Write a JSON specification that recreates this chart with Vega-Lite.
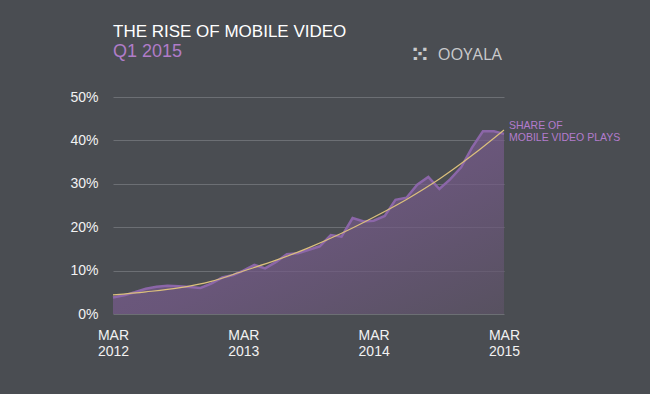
{
  "$schema": "https://vega.github.io/schema/vega-lite/v6.json",
  "autosize": {"type": "none"},
  "width": 391,
  "height": 217,
  "padding": {"left": 113, "top": 97, "right": 146, "bottom": 80},
  "background": "#4a4d52",
  "title": {
    "text": "THE RISE OF MOBILE VIDEO",
    "subtitle": "Q1 2015",
    "anchor": "start",
    "frame": "group",
    "font": "Liberation Sans",
    "fontSize": 17,
    "fontWeight": "normal",
    "color": "#ffffff",
    "subtitleFont": "Liberation Sans",
    "subtitleFontSize": 18,
    "subtitleColor": "#b07cc8",
    "subtitlePadding": 2,
    "offset": -18
  },
  "config": {
    "view": {"stroke": null},
    "axis": {"labelFont": "Liberation Sans", "domain": false, "ticks": false}
  },
  "datasets": {
    "share": [
      {"date": "2012-03-01", "share": 0.038},
      {"date": "2012-04-01", "share": 0.043},
      {"date": "2012-05-01", "share": 0.050},
      {"date": "2012-06-01", "share": 0.058},
      {"date": "2012-07-01", "share": 0.063},
      {"date": "2012-08-01", "share": 0.065},
      {"date": "2012-09-01", "share": 0.064},
      {"date": "2012-10-01", "share": 0.062},
      {"date": "2012-11-01", "share": 0.060},
      {"date": "2012-12-01", "share": 0.070},
      {"date": "2013-01-01", "share": 0.084},
      {"date": "2013-02-01", "share": 0.090},
      {"date": "2013-03-01", "share": 0.100},
      {"date": "2013-04-01", "share": 0.113},
      {"date": "2013-05-01", "share": 0.105},
      {"date": "2013-06-01", "share": 0.120},
      {"date": "2013-07-01", "share": 0.138},
      {"date": "2013-08-01", "share": 0.140},
      {"date": "2013-09-01", "share": 0.148},
      {"date": "2013-10-01", "share": 0.156},
      {"date": "2013-11-01", "share": 0.182},
      {"date": "2013-12-01", "share": 0.178},
      {"date": "2014-01-01", "share": 0.221},
      {"date": "2014-02-01", "share": 0.213},
      {"date": "2014-03-01", "share": 0.215},
      {"date": "2014-04-01", "share": 0.226},
      {"date": "2014-05-01", "share": 0.263},
      {"date": "2014-06-01", "share": 0.268},
      {"date": "2014-07-01", "share": 0.298},
      {"date": "2014-08-01", "share": 0.316},
      {"date": "2014-09-01", "share": 0.288},
      {"date": "2014-10-01", "share": 0.310},
      {"date": "2014-11-01", "share": 0.338},
      {"date": "2014-12-01", "share": 0.383},
      {"date": "2015-01-01", "share": 0.421},
      {"date": "2015-02-01", "share": 0.421},
      {"date": "2015-03-01", "share": 0.415}
    ],
    "trend": [
      {"date": "2012-03-01", "trend": 0.044},
      {"date": "2012-06-01", "trend": 0.051},
      {"date": "2012-09-01", "trend": 0.060},
      {"date": "2012-12-01", "trend": 0.075},
      {"date": "2013-03-01", "trend": 0.099},
      {"date": "2013-06-01", "trend": 0.124},
      {"date": "2013-09-01", "trend": 0.153},
      {"date": "2013-12-01", "trend": 0.186},
      {"date": "2014-03-01", "trend": 0.223},
      {"date": "2014-06-01", "trend": 0.264},
      {"date": "2014-09-01", "trend": 0.311},
      {"date": "2014-12-01", "trend": 0.365},
      {"date": "2015-03-01", "trend": 0.424}
    ],
    "note": [
      {"date": "2015-03-01", "value": 0.424, "label": ["SHARE OF", "MOBILE VIDEO PLAYS"]}
    ],
    "logo": [
      {"date": "2015-03-01", "value": 0.5, "label": "OOYALA", "mark": "⁙"}
    ]
  },
  "layer": [
    {
      "data": {"name": "share"},
      "mark": {
        "type": "area",
        "line": {"color": "#8b66a8", "strokeWidth": 2.5},
        "color": {
          "gradient": "linear",
          "x1": 0, "y1": 0, "x2": 1, "y2": 1,
          "stops": [
            {"offset": 0, "color": "#8463a2"},
            {"offset": 0.55, "color": "#765a8a"},
            {"offset": 1, "color": "#5d5366"}
          ]
        }
      },
      "encoding": {
        "x": {
          "field": "date", "type": "temporal",
          "scale": {"type": "utc", "domain": ["2012-03-01", "2015-03-01"]},
          "axis": {
            "title": null,
            "grid": false,
            "values": ["2012-03-01", "2013-03-01", "2014-03-01", "2015-03-01"],
            "labelExpr": "['MAR', utcFormat(datum.value, '%Y')]",
            "labelColor": "#f2f2f2",
            "labelFontSize": 14,
            "labelPadding": 14,
            "labelLineHeight": 16,
            "labelFlush": false
          }
        },
        "y": {
          "field": "share", "type": "quantitative",
          "scale": {"domain": [0, 0.5]},
          "axis": {
            "title": null,
            "values": [0, 0.1, 0.2, 0.3, 0.4, 0.5],
            "format": ".0%",
            "grid": true,
            "gridColor": "#6c6f74",
            "gridWidth": 1,
            "labelColor": "#f2f2f2",
            "labelFontSize": 14,
            "labelPadding": 15
          }
        }
      }
    },
    {
      "data": {"name": "trend"},
      "mark": {"type": "line", "color": "#dcc07c", "strokeWidth": 1.2, "interpolate": "monotone"},
      "encoding": {
        "x": {"field": "date", "type": "temporal"},
        "y": {"field": "trend", "type": "quantitative"}
      }
    },
    {
      "data": {"name": "note"},
      "mark": {"type": "text", "align": "left", "baseline": "top", "dx": 5, "dy": -9, "font": "Liberation Sans", "fontSize": 10.5, "lineHeight": 12, "color": "#b37ccd"},
      "encoding": {
        "x": {"field": "date", "type": "temporal"},
        "y": {"field": "value", "type": "quantitative"},
        "text": {"field": "label"}
      }
    },
    {
      "data": {"name": "logo"},
      "mark": {"type": "text", "align": "right", "baseline": "alphabetic", "dx": -2, "dy": -37, "font": "Open Sans", "fontSize": 16.5, "color": "#c9cacc"},
      "encoding": {
        "x": {"field": "date", "type": "temporal"},
        "y": {"field": "value", "type": "quantitative"},
        "text": {"field": "label"}
      }
    },
    {
      "data": {"name": "logo"},
      "mark": {"type": "text", "align": "center", "baseline": "middle", "dx": -84, "dy": -42, "font": "DejaVu Sans", "fontSize": 22, "fontWeight": "bold", "color": "#c9cacc"},
      "encoding": {
        "x": {"field": "date", "type": "temporal"},
        "y": {"field": "value", "type": "quantitative"},
        "text": {"field": "mark"}
      }
    }
  ]
}
